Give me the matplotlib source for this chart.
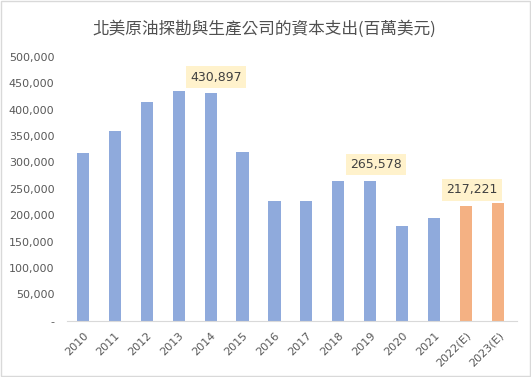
import matplotlib.pyplot as plt
from matplotlib.ticker import FuncFormatter
from matplotlib.patches import Rectangle

plt.rcParams['font.family'] = ['Noto Sans CJK TC', 'DejaVu Sans']

years = ['2010', '2011', '2012', '2013', '2014', '2015', '2016', '2017',
         '2018', '2019', '2020', '2021', '2022(E)', '2023(E)']
capex = [318000, 360000, 415000, 436000, 430897, 320000, 227000, 227000,
         265000, 265578, 180000, 195000, 217221, 224000]
estimate = [False] * 12 + [True, True]
labeled = ['2014', '2019', '2022(E)']

blue = '#8FAADC'
orange = '#F4B183'
text_gray = '#595959'

fig = plt.figure(figsize=(5.31, 3.77), dpi=100)
fig.patches.append(Rectangle((0.002, 0.003), 0.996, 0.994, transform=fig.transFigure,
                             fill=False, edgecolor='#D9D9D9', linewidth=1))
ax = fig.add_axes([0.126, 0.149, 0.848, 0.70])

x = list(range(len(years)))
colors = [orange if e else blue for e in estimate]
ax.bar(x, capex, width=0.38, color=colors, zorder=2)

for i, (yr, v) in enumerate(zip(years, capex)):
    if yr in labeled:
        ax.annotate(f'{v:,}', (i, v), xytext=(4, 7), textcoords='offset points',
                    ha='center', va='bottom', fontsize=9, color='#404040',
                    family=['DejaVu Sans'],
                    bbox=dict(boxstyle='square,pad=0.35', fc='#FFF2CC', ec='none'))

ax.set_ylim(0, 500000)
ax.set_xlim(-0.5, 13.6)
ax.set_yticks(range(0, 500001, 50000))
ax.yaxis.set_major_formatter(FuncFormatter(lambda v, p: '-' if v == 0 else f'{int(v):,}'))
ax.set_xticks(x)
ax.set_xticklabels(years, rotation=45, ha='right', rotation_mode='anchor')
ax.tick_params(axis='both', length=0, labelsize=8, labelcolor=text_gray)
ax.tick_params(axis='y', pad=9)
ax.tick_params(axis='x', pad=7)
for lab in ax.get_xticklabels() + ax.get_yticklabels():
    lab.set_family(['DejaVu Sans'])

for s in ['top', 'right', 'left']:
    ax.spines[s].set_visible(False)
ax.spines['bottom'].set_color('#D9D9D9')

fig.text(0.497, 0.923, '北美原油探勘與生產公司的資本支出(百萬美元)', ha='center', va='center',
         fontsize=12, color='#505050')

fig.savefig('out.png', dpi=100)
